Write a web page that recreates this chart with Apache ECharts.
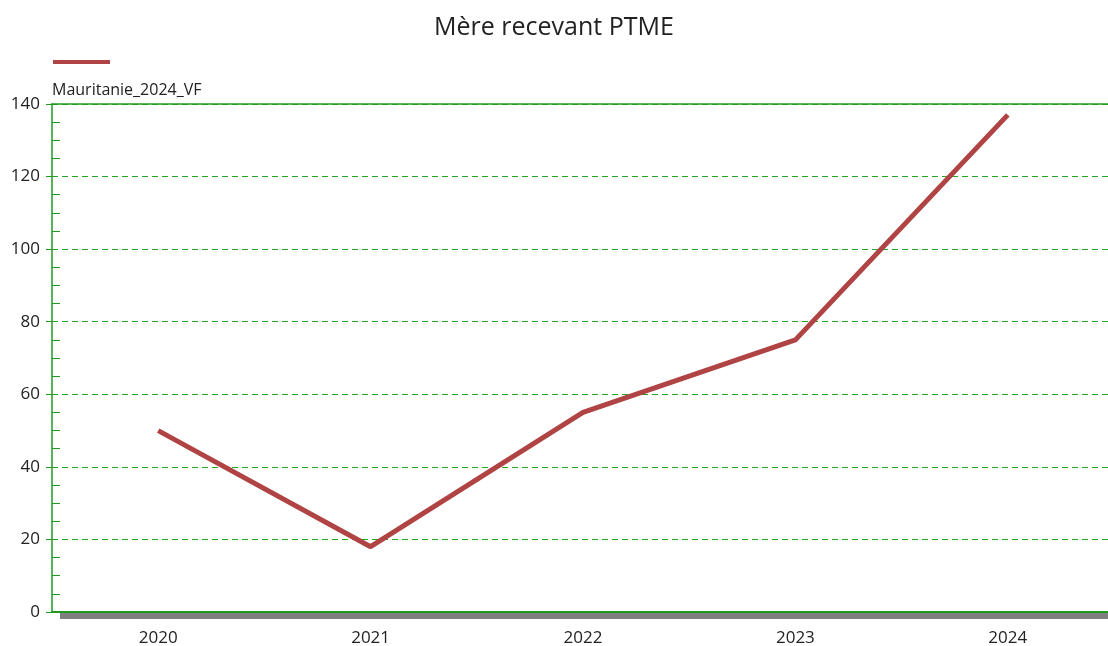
<!DOCTYPE html>
<html>
<head>
<meta charset="utf-8">
<script src="https://cdn.jsdelivr.net/npm/echarts@6/dist/echarts.min.js"></script>
<style>
  html, body { margin: 0; padding: 0; background: #fff; }
  #chart { width: 1108px; height: 646px; }
</style>
</head>
<body>
<div id="chart"></div>
<script>
const title = "Mère recevant PTME";
const seriesName = "Mauritanie_2024_VF";
const years = ["2020", "2021", "2022", "2023", "2024"];
const values = [50, 18, 55, 75, 137];

const green = "#1f9a1f";
const font = "Open Sans";

const chart = echarts.init(document.getElementById("chart"));

chart.setOption({
  animation: false,
  textStyle: { fontFamily: font },
  title: {
    text: title,
    left: "center",
    top: 10,
    textStyle: { fontSize: 25, fontWeight: "normal", color: "#222", fontFamily: font },
  },
  legend: {
    left: 53,
    top: 60,
    padding: 0,
    itemWidth: 57,
    itemHeight: 4,
    itemGap: 0,
    icon: "rect",
    formatter: () => "",
    data: [seriesName],
  },
  grid: { left: 52, right: -6, top: 104, bottom: 34, outerBoundsMode: "none", containLabel: false },
  xAxis: [
    {
      type: "category",
      data: years,
      position: "bottom",
      axisLine: { lineStyle: { color: green, width: 2 } },
      axisTick: { alignWithLabel: true, length: 14, lineStyle: { color: green } },
      axisLabel: { fontSize: 17, color: "#222", margin: 18 },
    },
    {
      type: "category",
      data: years,
      position: "bottom",
      axisLine: { show: false },
      axisTick: { alignWithLabel: true, inside: true, length: 13, lineStyle: { color: green } },
      axisLabel: { show: false },
    },
    {
      type: "category",
      data: years,
      position: "top",
      axisLine: { lineStyle: { color: green, width: 1.5 } },
      axisTick: { show: false },
      axisLabel: { show: false },
    },
  ],
  yAxis: [
    {
      type: "value",
      min: 0,
      max: 140,
      interval: 20,
      position: "left",
      name: seriesName,
      nameLocation: "end",
      nameGap: 6,
      nameTextStyle: { align: "left", fontSize: 16, color: "#222" },
      axisLine: { show: true, lineStyle: { color: green, width: 1.5 } },
      axisTick: { show: true, length: 6, lineStyle: { color: green } },
      axisLabel: { fontSize: 17, color: "#222", margin: 12 },
      splitLine: { lineStyle: { color: "#22a822", type: [6, 4], width: 1 } },
    },
    {
      type: "value",
      min: 0,
      max: 140,
      interval: 20,
      position: "left",
      axisLine: { show: false },
      axisTick: { show: false, inside: true },
      minorTick: { show: true, splitNumber: 4, length: 8, lineStyle: { color: green, width: 1 } },
      axisLabel: { show: false },
      splitLine: { show: false },
    },
  ],
  graphic: [
    {
      type: "rect",
      left: 60,
      top: 613,
      shape: { width: 1048, height: 6 },
      style: { fill: "#808080" },
      z: 0,
    },
  ],
  series: [
    {
      name: seriesName,
      type: "line",
      data: values,
      symbol: "none",
      itemStyle: { color: "#b04444" },
      lineStyle: { color: "#b04444", width: 5 },
    },
  ],
});
</script>
</body>
</html>
